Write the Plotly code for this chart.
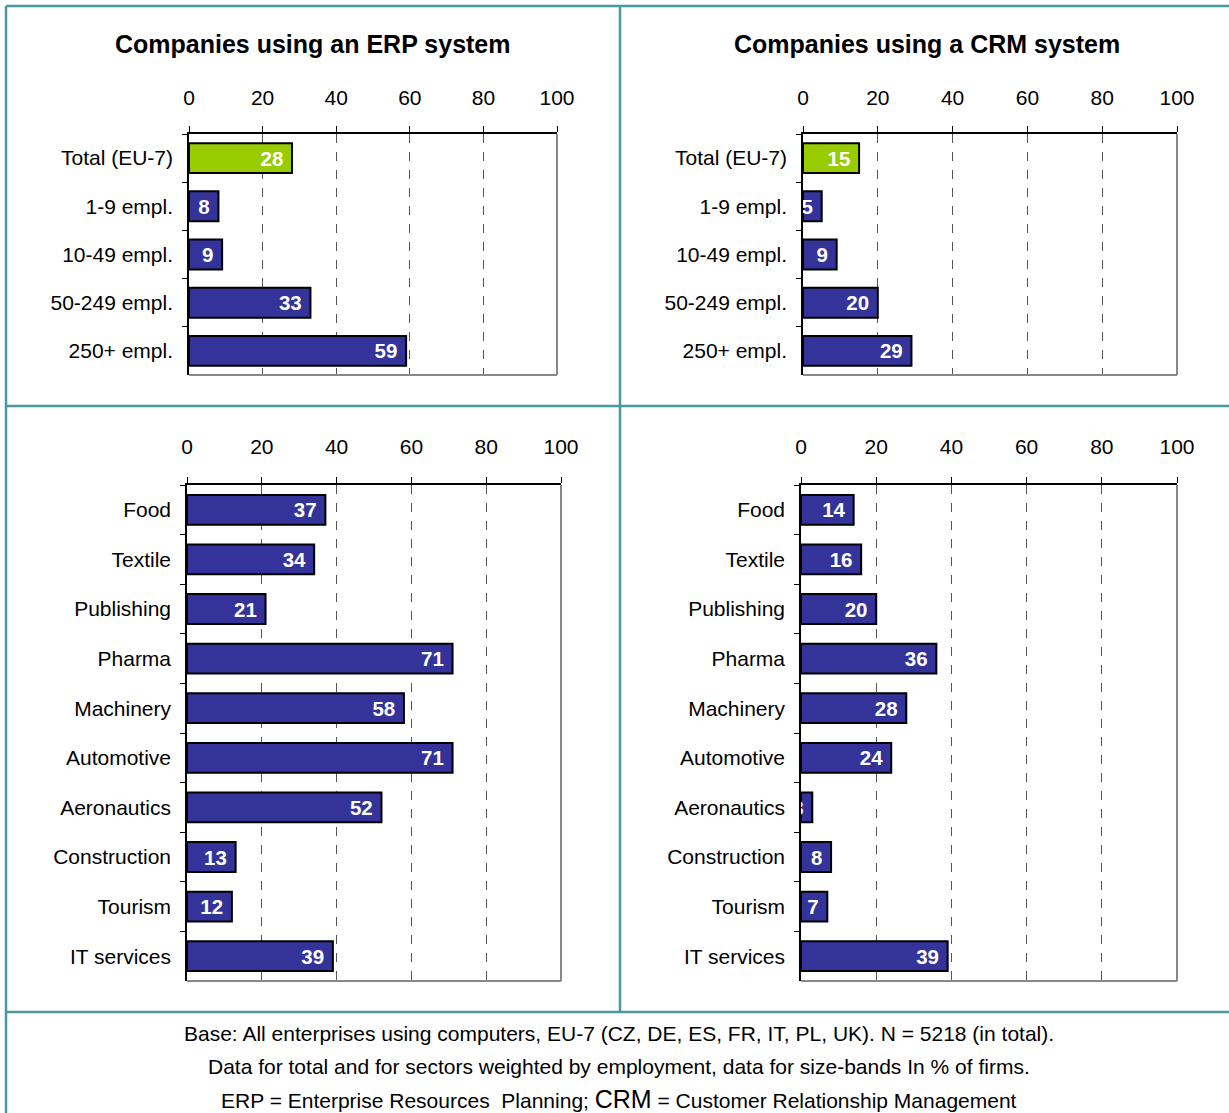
import plotly.graph_objects as go

W, H = 1229, 1113

size_cats = ["Total (EU-7)", "1-9 empl.", "10-49 empl.", "50-249 empl.", "250+ empl."]
erp_size = [28, 8, 9, 33, 59]
crm_size = [15, 5, 9, 20, 29]

sector_cats = ["Food", "Textile", "Publishing", "Pharma", "Machinery", "Automotive",
               "Aeronautics", "Construction", "Tourism", "IT services"]
erp_sector = [37, 34, 21, 71, 58, 71, 52, 13, 12, 39]
crm_sector = [14, 16, 20, 36, 28, 24, 3, 8, 7, 39]

titles = ["Companies using an ERP system", "Companies using a CRM system"]
x_ticks = [0, 20, 40, 60, 80, 100]

footer_lines = [
    "Base: All enterprises using computers, EU-7 (CZ, DE, ES, FR, IT, PL, UK). N = 5218 (in total).",
    "Data for total and for sectors weighted by employment, data for size-bands In % of firms.",
    "ERP = Enterprise Resources  Planning; <span style='font-size:25px'>CRM</span> = Customer Relationship Management",
]

BLUE = "#333399"
GREEN = "#99cc00"
TEAL = "#4a98a2"
FONT = "Liberation Sans, Arial, sans-serif"

def px_x(p):
    return p / W

def px_y(p):
    return 1 - p / H

panels = [
    # (cats, values, x0, x1, ytop, ybot, highlight_first, width, label standoff)
    (size_cats, erp_size, 189, 557, 134, 375, True, 0.62, 13),
    (size_cats, crm_size, 803, 1177, 134, 375, True, 0.62, 13),
    (sector_cats, erp_sector, 187, 561, 485, 981, False, 0.6, 15),
    (sector_cats, crm_sector, 801, 1177, 485, 981, False, 0.6, 15),
]

fig = go.Figure()
layout = dict(
    width=W, height=H, margin=dict(l=0, r=0, t=0, b=0, autoexpand=False),
    paper_bgcolor="white", plot_bgcolor="white", showlegend=False, autosize=False,
    font=dict(family=FONT, size=20, color="black"),
)
shapes = []
annotations = []

for i, (cats, vals, x0, x1, yt, yb, hl, bw, so) in enumerate(panels):
    n = i + 1
    xa = "x" if n == 1 else f"x{n}"
    ya = "y" if n == 1 else f"y{n}"
    colors = [GREEN if (hl and j == 0) else BLUE for j in range(len(vals))]
    fig.add_trace(go.Bar(
        x=vals, y=cats, orientation="h", xaxis=xa, yaxis=ya,
        marker=dict(color=colors, line=dict(color="black", width=2)),
        width=bw,
        text=[f"<b>{v}</b>\u00a0" for v in vals],
        textposition="inside", insidetextanchor="end", textangle=0,
        constraintext="none",
        textfont=dict(color="white", size=20.5, family=FONT),
        cliponaxis=True, hoverinfo="skip",
    ))
    layout[f"xaxis{'' if n == 1 else n}"] = dict(
        domain=[px_x(x0), px_x(x1)], anchor=ya, side="top",
        range=[0, 100], tickvals=x_ticks, ticktext=[str(t) for t in x_ticks],
        showline=True, linecolor="black", linewidth=1.5,
        ticks="outside", ticklen=6, tickcolor="black", tickwidth=1,
        ticklabelstandoff=so,
        showgrid=True, gridcolor="#555555", griddash="dash", gridwidth=1,
        zeroline=False, tickfont=dict(size=21),
    )
    layout[f"yaxis{'' if n == 1 else n}"] = dict(
        domain=[px_y(yb), px_y(yt)], anchor=xa,
        autorange="reversed", type="category",
        showline=True, linecolor="black", linewidth=1.5,
        ticks="outside", ticklen=5, tickson="boundaries", tickcolor="black",
        ticklabelstandoff=10,
        showgrid=False, zeroline=False, tickfont=dict(size=21),
    )
    shapes.append(dict(type="line", xref=f"{xa} domain", yref=f"{ya} domain",
                       x0=1, x1=1, y0=0, y1=1, line=dict(color="#888888", width=2)))
    shapes.append(dict(type="line", xref=f"{xa} domain", yref=f"{ya} domain",
                       x0=0, x1=1, y0=0, y1=0, line=dict(color="#888888", width=2)))

for t, cx in zip(titles, [313, 927]):
    annotations.append(dict(text=f"<b>{t}</b>", x=px_x(cx), y=px_y(44), xref="paper", yref="paper",
                            showarrow=False, xanchor="center", yanchor="middle",
                            font=dict(size=25, family=FONT)))

for line, cy in zip(footer_lines, [1033, 1066, 1099]):
    annotations.append(dict(text=line, x=px_x(619), y=px_y(cy), xref="paper", yref="paper",
                            showarrow=False, xanchor="center", yanchor="middle",
                            font=dict(size=21, family=FONT)))

frame = [
    (6, 6, 1229, 6), (6, 6, 6, 1113), (6, 406, 1229, 406), (6, 1012, 1229, 1012),
    (620, 6, 620, 1012),
]
for ax0, ay0, ax1, ay1 in frame:
    shapes.append(dict(type="line", xref="paper", yref="paper",
                       x0=px_x(ax0), x1=px_x(ax1), y0=px_y(ay0), y1=px_y(ay1),
                       line=dict(color=TEAL, width=2.5)))

layout["shapes"] = shapes
layout["annotations"] = annotations
fig.update_layout(**layout)
fig.write_html(
    "out.html",
    config={"responsive": False, "displayModeBar": False},
    default_width="1229px", default_height="1113px",
    post_script="document.body.style.margin='0';document.body.style.padding='0';"
                "document.documentElement.style.overflow='hidden';document.body.style.overflow='hidden';",
)
